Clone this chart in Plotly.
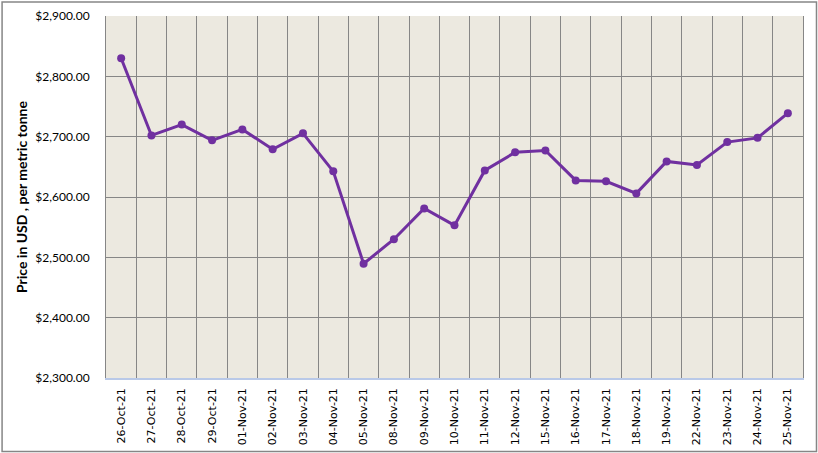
import plotly.graph_objects as go

dates = ["26-Oct-21", "27-Oct-21", "28-Oct-21", "29-Oct-21", "01-Nov-21", "02-Nov-21",
         "03-Nov-21", "04-Nov-21", "05-Nov-21", "08-Nov-21", "09-Nov-21", "10-Nov-21",
         "11-Nov-21", "12-Nov-21", "15-Nov-21", "16-Nov-21", "17-Nov-21", "18-Nov-21",
         "19-Nov-21", "22-Nov-21", "23-Nov-21", "24-Nov-21", "25-Nov-21"]
prices = [2830, 2702, 2720, 2694, 2712, 2679, 2705.5, 2642.5, 2489.5, 2530, 2581, 2553,
          2644, 2674, 2677, 2627.5, 2626, 2606, 2659, 2653, 2691, 2698, 2739]
y_ticks = [2300, 2400, 2500, 2600, 2700, 2800, 2900]
y_tick_text = ["$2,300.00", "$2,400.00", "$2,500.00", "$2,600.00", "$2,700.00", "$2,800.00", "$2,900.00"]

W, H = 818, 453
L, R, T, B = 105.5, 15, 15.5, 75

fig = go.Figure()
fig.add_trace(go.Scatter(
    x=dates, y=prices, mode="lines+markers",
    line=dict(color="#7030A0", width=3),
    marker=dict(color="#7030A0", size=8),
    showlegend=False, hoverinfo="x+y",
))

pw = W - L - R
ph = H - T - B
fig.add_shape(type="rect", xref="paper", yref="paper",
              x0=(1.5 - L) / pw, x1=(W - 1.5 - L) / pw,
              y0=-(H - 1.5 - T - ph) / ph, y1=(T - 1.5) / ph + 1,
              line=dict(color="#868686", width=1.5), fillcolor="rgba(0,0,0,0)", layer="below")

fig.update_layout(
    width=W, height=H,
    margin=dict(l=L, r=R, t=T, b=B, autoexpand=False),
    paper_bgcolor="white",
    plot_bgcolor="#ECE9E0",
    font=dict(family="Lato, 'Liberation Sans', sans-serif", size=12, color="black"),
    xaxis=dict(
        type="category", tickangle=-90, tickson="boundaries", automargin=False,
        showgrid=True, gridcolor="#868686", gridwidth=1,
        showline=True, linecolor="#B9C9E8", linewidth=1.5,
        ticks="", ticklabelstandoff=4,
        tickfont=dict(family="'DejaVu Sans', sans-serif", size=11),
        range=[-0.5, len(dates) - 0.5],
    ),
    yaxis=dict(
        range=[2300, 2900], tickvals=y_ticks, ticktext=y_tick_text, automargin=False,
        showgrid=True, gridcolor="#868686", gridwidth=1,
        showline=True, linecolor="#868686", linewidth=1, mirror=True,
        ticks="", ticklen=0, ticklabelstandoff=13, tickfont=dict(size=12),
        title=dict(text="<b>Price in USD , per metric tonne</b>", font=dict(size=14), standoff=4),
        zeroline=False,
    ),
)

fig.write_html("out.html")
